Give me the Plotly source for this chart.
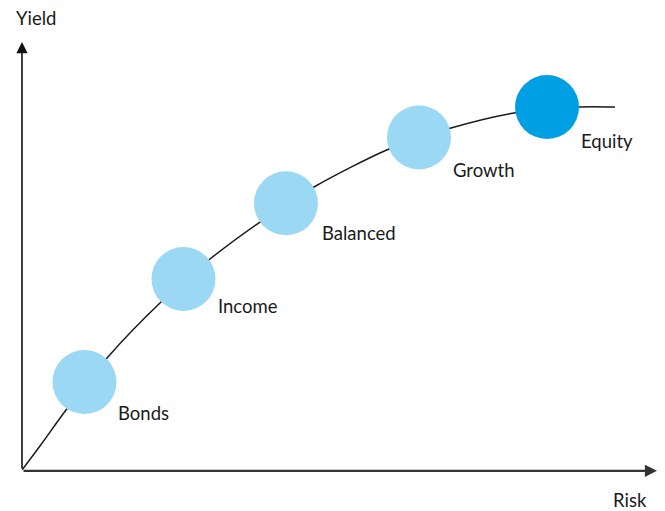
import plotly.graph_objects as go

# Risk / yield curve (conceptual scale 0-100)
curve_risk = [0, 2.83, 6.93, 13.39, 21.89, 29.61, 37.48, 45.98, 57.80, 67.56, 77.48, 87.56, 93.39]
curve_yield = [0, 5.61, 14.02, 26.17, 39.25, 49.30, 57.94, 66.12, 75.00, 79.91, 83.41, 84.81, 84.81]

# Portfolios
portfolios = ["Bonds", "Income", "Balanced", "Growth", "Equity"]
port_risk = [9.84, 25.43, 41.57, 62.52, 82.68]
port_yield = [20.56, 44.63, 62.31, 77.69, 84.81]
port_colors = ["#9AD8F3", "#9AD8F3", "#9AD8F3", "#9AD8F3", "#009FE3"]

x_title = "Risk"
y_title = "Yield"

# label placement style (pixel offsets from circle centres)
label_dx = [32, 33, 34, 32, 32]
label_dy = [-31, -27.5, -30, -33, -34]

FONT = "Lato"
TXT = "#1a1a1a"
FS = 18.5

fig = go.Figure()
fig.add_trace(go.Scatter(x=curve_risk, y=curve_yield, mode="lines",
                         line=dict(color="#1a1a1a", width=1.5, shape="spline", smoothing=0.8),
                         hoverinfo="skip", showlegend=False))
fig.add_trace(go.Scatter(x=port_risk, y=port_yield, mode="markers",
                         marker=dict(size=64, color=port_colors, line=dict(width=0)),
                         text=portfolios, hoverinfo="text", showlegend=False))

annotations = []
for name, xr, yv, dx, dy in zip(portfolios, port_risk, port_yield, label_dx, label_dy):
    annotations.append(dict(x=xr, y=yv, xref="x", yref="y", text=name, showarrow=False,
                            xanchor="left", yanchor="middle", xshift=dx, yshift=dy,
                            font=dict(family=FONT, size=FS, color=TXT)))

# axes with arrows
annotations.append(dict(x=0, y=1, xref="paper", yref="paper", ax=0, ay=428,
                        axref="pixel", ayref="pixel", showarrow=True, arrowhead=2,
                        arrowsize=1.4, arrowwidth=1.6, arrowcolor="#111111", text=""))
annotations.append(dict(x=1, y=-0.002, xref="paper", yref="paper", ax=-635, ay=0,
                        showarrow=True, arrowhead=2,
                        arrowsize=1.1, arrowwidth=2.2, arrowcolor="#333333", text=""))

annotations.append(dict(x=-0.0126, y=1.056, xref="paper", yref="paper", text=y_title,
                        showarrow=False, xanchor="left", yanchor="middle",
                        font=dict(family=FONT, size=FS, color=TXT)))
annotations.append(dict(x=0.9276, y=-0.0701, xref="paper", yref="paper", text=x_title,
                        showarrow=False, xanchor="left", yanchor="middle",
                        font=dict(family=FONT, size=FS, color=TXT)))

fig.update_layout(
    width=665, height=511,
    margin=dict(l=22, r=8, t=42, b=41),
    paper_bgcolor="white", plot_bgcolor="white",
    xaxis=dict(range=[0, 100], visible=False, fixedrange=True),
    yaxis=dict(range=[0, 100], visible=False, fixedrange=True),
    annotations=annotations,
)

fig.write_html("out.html", config={"displayModeBar": False},
               post_script="document.body.style.margin='0';document.body.style.overflow='hidden';")
